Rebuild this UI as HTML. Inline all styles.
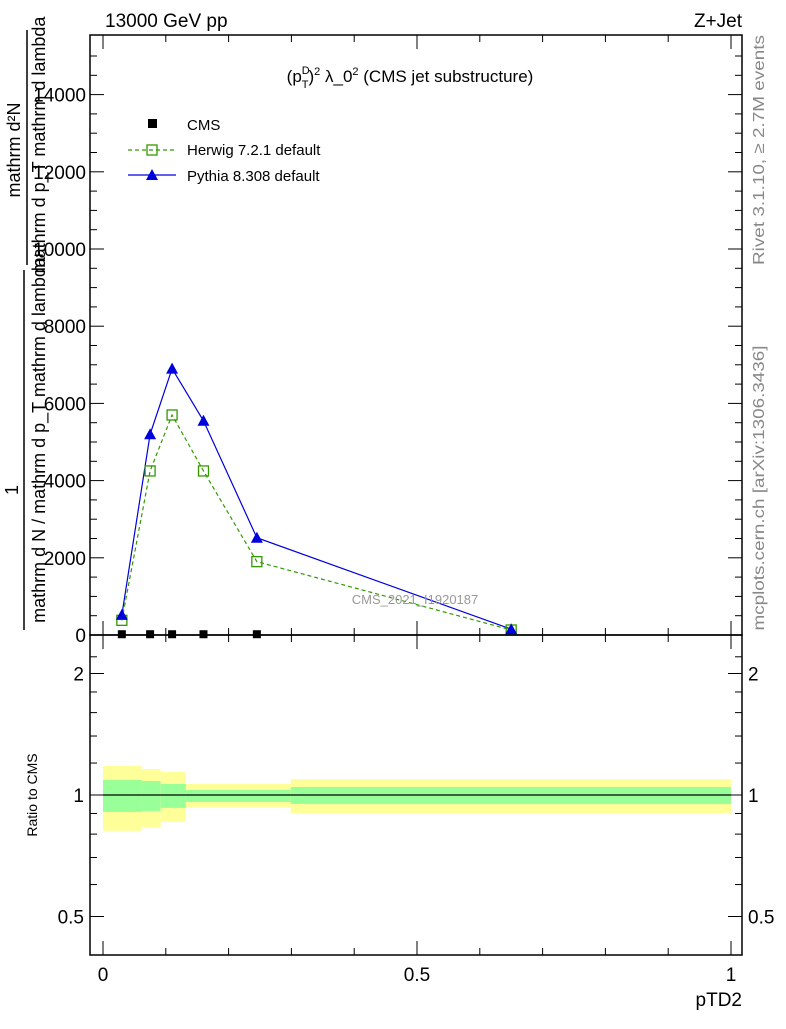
<!DOCTYPE html>
<html><head><meta charset="utf-8"><style>
body{margin:0;background:#fff;}
svg text{font-family:"Liberation Sans",sans-serif;}
</style></head><body>
<svg width="786" height="1024" xmlns="http://www.w3.org/2000/svg" id="chart">
<g id="main"></g>
<g id="ratio"></g>
<text x="105" y="27" font-size="19">13000 GeV pp</text>
<text x="742" y="27" font-size="19" text-anchor="end">Z+Jet</text>
<text x="410" y="82" font-size="17" text-anchor="middle">(p<tspan font-size="11" dy="-8">D</tspan><tspan font-size="11" dx="-8" dy="14">T</tspan><tspan dy="-6">)</tspan><tspan font-size="11" dy="-7">2</tspan><tspan dy="7"> λ_0</tspan><tspan font-size="11" dy="-7">2</tspan><tspan dy="7"> (CMS jet substructure)</tspan></text>
<text x="415" y="604" font-size="13" fill="#999" text-anchor="middle">CMS_2021_I1920187</text>
<text transform="translate(764,150) rotate(-90)" font-size="16" fill="#888" text-anchor="middle" textLength="230" lengthAdjust="spacingAndGlyphs">Rivet 3.1.10, ≥ 2.7M events</text>
<text transform="translate(764,488) rotate(-90)" font-size="16" fill="#888" text-anchor="middle" textLength="285" lengthAdjust="spacingAndGlyphs">mcplots.cern.ch [arXiv:1306.3436]</text>
<g font-size="18">
<text transform="translate(20,150) rotate(-90)" text-anchor="middle">mathrm d²N</text>
<text transform="translate(45,145) rotate(-90)" text-anchor="middle">mathrm d p_T mathrm d lambda</text>
<line x1="27" y1="30" x2="27" y2="265" stroke="#000" stroke-width="1.5"/>
<text transform="translate(18,490) rotate(-90)" text-anchor="middle">1</text>
<text transform="translate(45,440) rotate(-90)" text-anchor="middle">mathrm d N / mathrm d p_T mathrm d lambda</text>
<line x1="24" y1="270" x2="24" y2="630" stroke="#000" stroke-width="1.5"/>
</g>
<text transform="translate(37,795) rotate(-90)" font-size="14" text-anchor="middle">Ratio to CMS</text>
<text x="742" y="1006" font-size="19" text-anchor="end">pTD2</text>
<g font-size="15">
<rect x="148" y="119" width="9" height="9" fill="#000"/>
<text x="187" y="130">CMS</text>
<line x1="128" y1="150" x2="176" y2="150" stroke="#339900" stroke-dasharray="4,3" stroke-width="1.2"/>
<rect x="147" y="145" width="10" height="10" fill="none" stroke="#339900" stroke-width="1.3"/>
<text x="187" y="155">Herwig 7.2.1 default</text>
<line x1="128" y1="175" x2="176" y2="175" stroke="#0000dd" stroke-width="1.2"/>
<polygon points="152,169 158,180 146,180" fill="#0000dd"/>
<text x="187" y="181">Pythia 8.308 default</text>
</g>
</svg>
<script>
const xs=[0.03,0.075,0.11,0.16,0.245,0.65];
const cmsVals=[20,20,20,20,20,20];
const herwigVals=[380,4250,5700,4250,1900,130];
const pythiaVals=[520,5200,6900,5550,2520,150];
const yTicks=[0,2000,4000,6000,8000,10000,12000,14000];
const binEdges=[0,0.062,0.092,0.132,0.299,1.0];
const yellowHi=[1.18,1.16,1.14,1.065,1.095];
const yellowLo=[0.815,0.833,0.857,0.934,0.902];
const greenHi=[1.089,1.083,1.065,1.029,1.047];
const greenLo=[0.908,0.913,0.929,0.961,0.95];
const ratioTicks=[0.5,1,2];
const xTicks=[0,0.5,1];
const NS="http://www.w3.org/2000/svg";
const L=90,R=742,T=35,B=635,RB=955;
const X=v=>103+v*628;
const Y=v=>635-v*0.0386;
const RY=r=>795-121.5*Math.log2(r);
function mk(p,tag,a){const e=document.createElementNS(NS,tag);for(const k in a)e.setAttribute(k,a[k]);p.appendChild(e);return e;}
const main=document.getElementById('main'),ratio=document.getElementById('ratio');
for(let i=0;i<binEdges.length-1;i++){
 const y=mk(ratio,'rect',{x:X(binEdges[i]),y:RY(yellowHi[i]),width:X(binEdges[i+1])-X(binEdges[i]),height:RY(yellowLo[i])-RY(yellowHi[i]),fill:'#ffff99'});
 
 
 const g=mk(ratio,'rect',{x:X(binEdges[i]),y:RY(greenHi[i]),width:X(binEdges[i+1])-X(binEdges[i]),height:RY(greenLo[i])-RY(greenHi[i]),fill:'#99ff99'});
 
 
}
mk(ratio,'line',{x1:X(0),x2:X(1),y1:RY(1),y2:RY(1),stroke:'#000','stroke-width':1.3});
mk(main,'rect',{x:L,y:T,width:R-L,height:B-T,fill:'none',stroke:'#000','stroke-width':1.5});
mk(ratio,'rect',{x:L,y:B,width:R-L,height:RB-B,fill:'none',stroke:'#000','stroke-width':1.5});
for(let v=0;v<=15000;v+=500){const y=Y(v);if(y<T)break;const len=v%2000===0?14:7;
 mk(main,'line',{x1:L,x2:L+len,y1:y,y2:y,stroke:'#000'});mk(main,'line',{x1:R,x2:R-len,y1:y,y2:y,stroke:'#000'});}
yTicks.forEach(v=>{const t=mk(main,'text',{x:L-4,y:Y(v)+7,'font-size':19,'text-anchor':'end'});t.textContent=v;
 
 });
for(let v=0;v<=1.0001;v+=0.1){const x=X(v);const major=Math.abs(v*2-Math.round(v*2))<1e-6;const len=major?14:7;
 mk(main,'line',{x1:x,x2:x,y1:B,y2:B-len,stroke:'#000'});mk(main,'line',{x1:x,x2:x,y1:T,y2:T+len,stroke:'#000'});
 mk(ratio,'line',{x1:x,x2:x,y1:RB,y2:RB-len,stroke:'#000'});mk(ratio,'line',{x1:x,x2:x,y1:B,y2:B+len,stroke:'#000'});}
xTicks.forEach(v=>{const t=mk(ratio,'text',{x:X(v),y:981,'font-size':19,'text-anchor':'middle'});t.textContent=v;
 
 });
[0.4,0.5,0.6,0.7,0.8,0.9,1,1.2,1.4,1.6,1.8,2,2.2].forEach(r=>{const y=RY(r);if(y<B||y>RB)return;const len=ratioTicks.includes(r)?14:7;
 mk(ratio,'line',{x1:L,x2:L+len,y1:y,y2:y,stroke:'#000'});mk(ratio,'line',{x1:R,x2:R-len,y1:y,y2:y,stroke:'#000'});});
ratioTicks.forEach(r=>{[[L-6,'end'],[R+6,'start']].forEach(([x,a])=>{const t=mk(ratio,'text',{x:x,y:RY(r)+7,'font-size':19,'text-anchor':a});t.textContent=r;
 
 });});
const hp=mk(main,'polyline',{points:xs.map((x,i)=>X(x)+','+Y(herwigVals[i])).join(' '),fill:'none',stroke:'#339900','stroke-dasharray':'4,3','stroke-width':1.2});


const pp=mk(main,'polyline',{points:xs.map((x,i)=>X(x)+','+Y(pythiaVals[i])).join(' '),fill:'none',stroke:'#0000dd','stroke-width':1.2});


xs.forEach((x,i)=>{
 const h=mk(main,'rect',{x:X(x)-5,y:Y(herwigVals[i])-5,width:10,height:10,fill:'none',stroke:'#339900','stroke-width':1.3});
 
 
 const px=X(x),py=Y(pythiaVals[i]);
 const p=mk(main,'polygon',{points:`${px},${py-6} ${px+6},${py+5} ${px-6},${py+5}`,fill:'#0000dd'});
 
 
 if(i<5){const c=mk(main,'rect',{x:X(x)-4,y:Y(cmsVals[i])-4,width:8,height:8,fill:'#000'});
 
 }
});
</script>
</body></html>
